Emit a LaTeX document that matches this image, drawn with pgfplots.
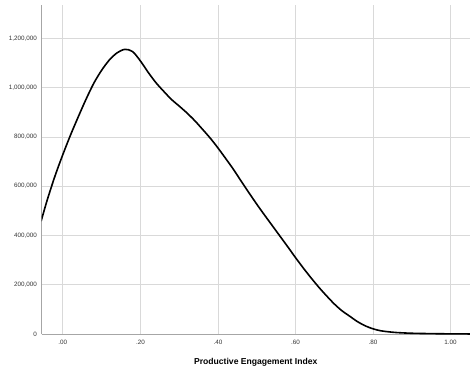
\documentclass[border=0pt]{standalone}
\usepackage{pgfplots}
\pgfplotsset{compat=1.18}
\usepackage{fontspec}
\setmainfont{Liberation Sans}
\definecolor{gridc}{HTML}{D9D9D9}
\definecolor{axc}{HTML}{A6A6A6}
\begin{document}
\begin{tikzpicture}[x=1pt,y=1pt]
\useasboundingbox (0,0) rectangle (470,376);
\begin{axis}[
  at={(41.5pt,42pt)}, anchor=south west,
  scale only axis, width=428.5pt, height=329pt,
  xmin=-0.055, xmax=1.05, ymin=0, ymax=1335000,
  axis lines*=left,
  axis line style={axc, line width=0.8pt},
  grid=major, major grid style={gridc, line width=0.7pt},
  major tick length=0pt,
  xtick={0,0.2,0.4,0.6,0.8,1.0},
  xticklabels={.00,.20,.40,.60,.80,1.00},
  ytick={0,200000,400000,600000,800000,1000000,1200000},
  yticklabels={0,{200,000},{400,000},{600,000},{800,000},{1,000,000},{1,200,000}},
  scaled y ticks=false,
  tick label style={font=\fontsize{6.3}{7}\selectfont, text=black!80},
  xticklabel style={yshift=-3pt},
  yticklabel style={xshift=-1pt},
  xlabel={\textbf{Productive Engagement Index}},
  xlabel style={font=\fontsize{8.6}{10}\selectfont, yshift=-6pt},
  /pgf/number format/assume math mode=true,
  clip=true,
]
\addplot[black, line width=1.6pt, smooth, tension=0.5] coordinates {
(-0.056,458000)
(-0.04,545000)
(-0.02,642000)
(0.00,728000)
(0.02,808000)
(0.04,882000)
(0.06,953000)
(0.08,1018000)
(0.10,1070000)
(0.12,1112000)
(0.14,1141000)
(0.16,1155000)
(0.18,1146000)
(0.20,1108000)
(0.22,1062000)
(0.24,1020000)
(0.26,985000)
(0.28,952000)
(0.30,925000)
(0.32,897000)
(0.34,866000)
(0.36,831000)
(0.38,795000)
(0.40,755000)
(0.42,712000)
(0.44,668000)
(0.46,620000)
(0.48,573000)
(0.50,527000)
(0.52,483000)
(0.54,440000)
(0.56,397000)
(0.58,354000)
(0.60,310000)
(0.62,268000)
(0.64,228000)
(0.66,190000)
(0.68,155000)
(0.70,122000)
(0.72,94000)
(0.74,72000)
(0.76,50000)
(0.78,33000)
(0.80,21000)
(0.82,13000)
(0.84,9000)
(0.86,6000)
(0.90,3000)
(0.95,1500)
(1.00,600)
(1.05,200)
};
\end{axis}
\end{tikzpicture}
\end{document}
